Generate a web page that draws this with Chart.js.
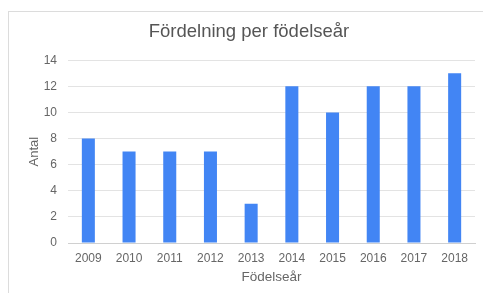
<!DOCTYPE html>
<html lang="sv">
<head>
<meta charset="UTF-8">
<title>Fördelning per födelseår</title>
<script src="https://cdn.jsdelivr.net/npm/chart.js@4/dist/chart.umd.min.js"></script>
<style>
  html, body { margin: 0; padding: 0; background: #fff; overflow: hidden; }
  .card {
    position: absolute; left: 8px; top: 11px; width: 475px; height: 282px;
    border-top: 1px solid #dcdcdc; border-left: 1px solid #dcdcdc;
  }
  #chart { position: absolute; left: 0; top: 0; }
</style>
</head>
<body>
<div class="card"></div>
<canvas id="chart" width="483" height="293"></canvas>
<script>
const years = ["2009", "2010", "2011", "2012", "2013", "2014", "2015", "2016", "2017", "2018"];
const antal = [8, 7, 7, 7, 3, 12, 10, 12, 12, 13];
const yTicks = [0, 2, 4, 6, 8, 10, 12, 14];

const textColor = "#666";
const font = "'Liberation Sans', Arial, sans-serif";

new Chart(document.getElementById("chart"), {
  type: "bar",
  data: {
    labels: years,
    datasets: [{
      label: "Antal",
      data: antal,
      backgroundColor: "#4285f4",
      barPercentage: 0.32,
      categoryPercentage: 1
    }]
  },
  options: {
    responsive: false,
    animation: false,
    devicePixelRatio: 1,
    layout: { padding: { left: 23, right: 8, top: 0, bottom: 0 } },
    plugins: {
      legend: { display: false },
      tooltip: { enabled: false },
      title: {
        display: true,
        text: "Fördelning per födelseår",
        color: "#555",
        font: { family: font, size: 18.5, weight: "normal" },
        padding: { top: 21, bottom: 17 }
      }
    },
    scales: {
      x: {
        afterFit: (axis) => { axis.height = 50; },
        grid: { display: false, drawTicks: false },
        border: { color: "#d0d0d0" },
        ticks: { color: textColor, font: { family: font, size: 12 }, padding: 8, maxRotation: 0 },
        title: { display: true, text: "Födelseår", color: textColor, font: { family: font, size: 13.5 }, padding: { top: 0, bottom: 8 } }
      },
      y: {
        min: 0, max: 14,
        afterBuildTicks: (axis) => { axis.ticks = yTicks.map(v => ({ value: v })); },
        afterFit: (axis) => { axis.width = 45; },
        grid: { color: "#e3e3e3", drawTicks: false },
        border: { display: false },
        ticks: { color: textColor, font: { family: font, size: 12 }, padding: 11 },
        title: { display: true, text: "Antal", color: textColor, font: { family: font, size: 13 }, padding: { top: 4, bottom: 0 } }
      }
    }
  }
});
</script>
</body>
</html>
